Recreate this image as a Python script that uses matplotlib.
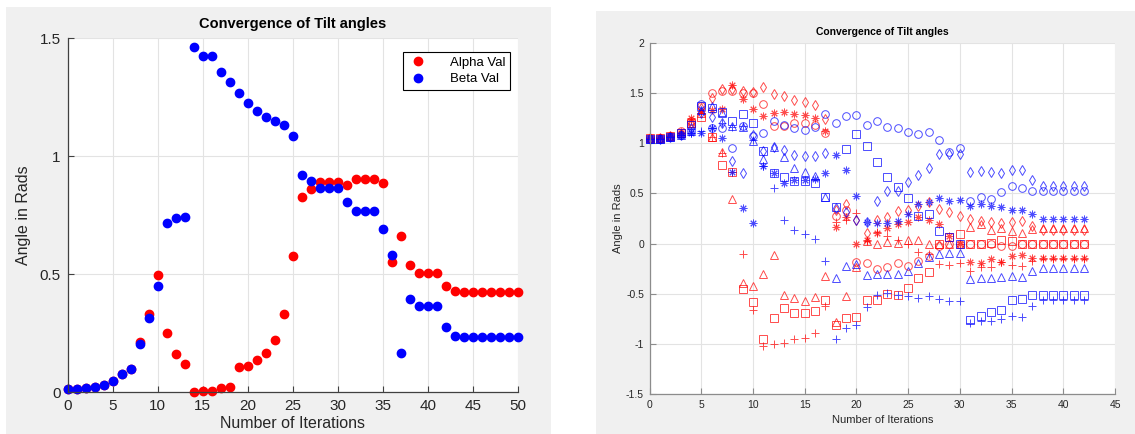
import numpy as np
import matplotlib
matplotlib.use('Agg')
import matplotlib.pyplot as plt
from matplotlib.patches import Rectangle

plt.rcParams['font.family'] = ['Liberation Sans', 'DejaVu Sans']

# ---- left plot: alpha / beta per iteration ----
iters_left = np.arange(0, 51)
alpha_val = [0.011, 0.011, 0.017, 0.021, 0.031, 0.048, 0.075, 0.097, 0.211, 0.330,
             0.494, 0.251, 0.161, 0.120, 0.0, 0.004, 0.004, 0.015, 0.023, 0.104,
             0.111, 0.135, 0.166, 0.221, 0.332, 0.577, 0.828, 0.862, 0.890, 0.890,
             0.890, 0.876, 0.904, 0.901, 0.901, 0.887, 0.552, 0.663, 0.538, 0.506,
             0.506, 0.506, 0.451, 0.428, 0.423, 0.423, 0.423, 0.423, 0.423, 0.423, 0.423]
beta_val = [0.011, 0.011, 0.017, 0.021, 0.031, 0.048, 0.075, 0.097, 0.203, 0.315,
            0.451, 0.715, 0.737, 0.741, 1.462, 1.423, 1.423, 1.354, 1.315, 1.266,
            1.224, 1.190, 1.166, 1.149, 1.130, 1.085, 0.921, 0.896, 0.866, 0.866,
            0.863, 0.806, 0.766, 0.766, 0.766, 0.692, 0.582, 0.166, 0.394, 0.363,
            0.366, 0.366, 0.277, 0.239, 0.232, 0.232, 0.232, 0.232, 0.232, 0.232, 0.232]

# ---- right plot: six red and six blue runs ----
iters_right = np.arange(0, 43)
red_circle = [1.05, 1.05, 1.07, 1.12, 1.22, 1.37, 1.50, 1.52, 1.52, 1.50, 1.50, 1.39, 1.17,
              1.17, 1.20, 1.20, 1.18, 1.10, 0.27, 0.33, -0.18, -0.19, -0.25, -0.23, -0.19,
              -0.22, -0.17, -0.12, -0.02, 0.0, 0.0, 0.0, 0.0, 0.0, -0.02, -0.02, 0.0,
              0.0, 0.0, 0.0, 0.0, 0.0, 0.0]
red_plus = [1.05, 1.05, 1.07, 1.10, 1.22, 1.30, 1.06, 0.90, 0.71, -0.10, -0.66, -1.02, -1.00,
            -0.99, -0.95, -0.94, -0.89, -0.62, 0.22, 0.24, 0.30, 0.03, 0.12, 0.08, 0.04,
            0.0, -0.08, -0.10, -0.20, -0.21, -0.19, -0.27, -0.23, -0.23, -0.18, -0.21, -0.22,
            -0.17, -0.15, -0.15, -0.15, -0.15, -0.15]
red_star = [1.05, 1.05, 1.07, 1.10, 1.25, 1.32, 1.33, 1.34, 1.58, 1.44, 1.34, 1.27, 1.30,
            1.31, 1.29, 1.28, 1.25, 1.12, 0.17, 0.26, 0.0, 0.04, 0.11, 0.16, 0.20,
            0.22, 0.26, 0.24, 0.20, 0.08, 0.0, -0.18, -0.19, -0.15, -0.18, -0.12, -0.11,
            -0.14, -0.14, -0.14, -0.14, -0.14, -0.14]
red_square = [1.05, 1.05, 1.07, 1.10, 1.20, 1.26, 1.06, 0.78, 0.71, -0.45, -0.58, -0.95, -0.74,
              -0.64, -0.69, -0.69, -0.67, -0.56, -0.81, -0.74, -0.73, -0.56, -0.56, -0.50, -0.51,
              -0.44, -0.34, -0.28, 0.0, 0.07, 0.10, 0.0, 0.0, 0.01, 0.04, 0.03, 0.0,
              0.0, 0.0, 0.0, 0.0, 0.0, 0.0]
red_diamond = [1.05, 1.05, 1.07, 1.10, 1.20, 1.35, 1.45, 1.54, 1.54, 1.52, 1.51, 1.56, 1.49,
               1.47, 1.43, 1.41, 1.38, 1.24, 0.33, 0.39, 0.24, 0.11, 0.24, 0.26, 0.32,
               0.33, 0.37, 0.41, 0.34, 0.31, 0.27, 0.25, 0.23, 0.22, 0.21, 0.22, 0.23,
               0.18, 0.135, 0.135, 0.135, 0.135, 0.135]
red_triangle = [1.05, 1.05, 1.07, 1.10, 1.20, 1.30, 1.06, 0.91, 0.44, -0.39, -0.42, -0.30, -0.11,
                -0.51, -0.54, -0.57, -0.53, -0.32, -0.78, -0.52, -0.23, 0.03, 0.0, 0.02, 0.01,
                0.04, 0.04, 0.0, 0.0, 0.0, 0.0, 0.17, 0.20, 0.14, 0.16, 0.13, 0.11,
                0.15, 0.16, 0.16, 0.16, 0.16, 0.16]
blue_circle = [1.04, 1.04, 1.06, 1.08, 1.12, 1.39, 1.15, 1.15, 0.955, 1.17, 1.07, 1.10, 1.22,
               1.18, 1.15, 1.13, 1.16, 1.29, 1.20, 1.27, 1.28, 1.18, 1.22, 1.16, 1.15,
               1.11, 1.09, 1.11, 1.03, 0.91, 0.95, 0.42, 0.46, 0.44, 0.51, 0.57, 0.55,
               0.52, 0.52, 0.52, 0.52, 0.52, 0.52]
blue_plus = [1.04, 1.04, 1.06, 1.08, 1.10, 1.12, 1.15, 1.20, 1.16, 1.17, 1.03, 0.77, 0.55,
             0.24, 0.14, 0.10, 0.05, -0.17, -0.95, -0.84, -0.81, -0.63, -0.51, -0.49, -0.51,
             -0.52, -0.54, -0.52, -0.55, -0.57, -0.57, -0.79, -0.77, -0.77, -0.75, -0.72, -0.73,
             -0.62, -0.56, -0.56, -0.56, -0.56, -0.56]
blue_star = [1.04, 1.04, 1.06, 1.08, 1.10, 1.10, 1.15, 1.05, 0.71, 0.35, 0.21, 0.77, 0.70,
             0.60, 0.63, 0.63, 0.64, 0.70, 0.88, 0.73, 0.47, 0.22, 0.21, 0.21, 0.23,
             0.29, 0.39, 0.41, 0.45, 0.42, 0.43, 0.37, 0.39, 0.37, 0.36, 0.33, 0.33,
             0.29, 0.25, 0.25, 0.25, 0.25, 0.25]
blue_square = [1.04, 1.04, 1.06, 1.10, 1.18, 1.37, 1.35, 1.31, 1.22, 1.29, 1.20, 0.92, 0.70,
               0.66, 0.62, 0.62, 0.60, 0.46, 0.36, 0.94, 1.09, 0.97, 0.81, 0.66, 0.56,
               0.45, 0.27, 0.29, 0.13, 0.07, 0.0, -0.76, -0.72, -0.68, -0.66, -0.56, -0.55,
               -0.51, -0.51, -0.51, -0.51, -0.51, -0.51]
blue_diamond = [1.04, 1.04, 1.06, 1.08, 1.15, 1.30, 1.26, 1.20, 0.82, 0.70, 1.08, 0.92, 0.96,
                0.93, 0.88, 0.87, 0.87, 0.90, 0.35, 0.31, 0.24, 0.22, 0.42, 0.52, 0.52,
                0.61, 0.68, 0.75, 0.89, 0.89, 0.89, 0.71, 0.72, 0.71, 0.70, 0.73, 0.73,
                0.63, 0.57, 0.57, 0.57, 0.57, 0.57]
blue_triangle = [1.04, 1.04, 1.06, 1.08, 1.12, 1.33, 1.37, 1.30, 1.17, 1.16, 1.02, 0.84, 0.96,
                 0.86, 0.75, 0.71, 0.67, 0.46, -0.34, -0.22, -0.20, -0.31, -0.30, -0.30, -0.30,
                 -0.27, -0.19, -0.13, -0.10, -0.09, -0.09, -0.35, -0.34, -0.34, -0.33, -0.32, -0.33,
                 -0.27, -0.24, -0.24, -0.24, -0.24, -0.24]

W, H = 1135, 434
fig = plt.figure(figsize=(W / 100, H / 100), dpi=100)
fig.patch.set_facecolor('white')

# grey figure backgrounds behind each axes
fig.add_artist(Rectangle((6 / W, 0), 545 / W, 427 / H, transform=fig.transFigure,
                         facecolor='#f0f0f0', edgecolor='none', zorder=-10))
fig.add_artist(Rectangle((596 / W, 0), 539 / W, 423 / H, transform=fig.transFigure,
                         facecolor='#f0f0f0', edgecolor='none', zorder=-10))


def matlab_axes(ax, axis_color):
    ax.set_facecolor('white')
    ax.grid(True, color='#e3e3e3', linewidth=0.8)
    ax.set_axisbelow(True)
    for s in ['top', 'right']:
        ax.spines[s].set_visible(False)
    for s in ['left', 'bottom']:
        ax.spines[s].set_color(axis_color)
        ax.spines[s].set_linewidth(0.9)
    ax.tick_params(direction='in', length=4, color=axis_color, width=0.8)


# left axes
ax1 = fig.add_axes([67.7 / W, (H - 392) / H, 450.3 / W, 354 / H])
matlab_axes(ax1, '#404040')
ax1.plot(iters_left, alpha_val, 'o', color='#ff0000', markersize=6, label='Alpha Val', clip_on=False)
ax1.plot(iters_left, beta_val, 'o', color='#0000ff', markersize=6, label='Beta Val', clip_on=False)
ax1.set_xlim(0, 50)
ax1.set_ylim(0, 1.5)
ax1.set_xticks(np.arange(0, 51, 5))
ax1.set_yticks([0, 0.5, 1, 1.5])
ax1.set_yticklabels(['0', '0.5', '1', '1.5'])
ax1.tick_params(labelsize=11, labelcolor='#262626', pad=5)
ax1.set_title('Convergence of Tilt angles', fontsize=10.5, fontweight='bold', pad=7)
ax1.set_xlabel('Number of Iterations', fontsize=11.5, color='#262626', labelpad=2)
ax1.set_ylabel('Angle in Rads', fontsize=11.5, color='#262626', labelpad=6)
leg = ax1.legend(loc='upper right', bbox_to_anchor=(0.982, 0.96), borderaxespad=0,
                 fontsize=9.5, fancybox=False, framealpha=1, edgecolor='black',
                 handletextpad=1.6, handlelength=1.6, borderpad=0.35, labelspacing=0.3)
leg.get_frame().set_linewidth(0.8)

# right axes
ax2 = fig.add_axes([649.5 / W, (H - 394) / H, 465.5 / W, 351 / H])
matlab_axes(ax2, '#8c8c8c')
mk = dict(linestyle='none', markersize=5.5, markerfacecolor='none', markeredgewidth=0.7,
          alpha=0.7, clip_on=False)
asterisk = (8, 2, 0)
ax2.plot(iters_right, red_circle, marker='o', color='r', **mk)
ax2.plot(iters_right, red_plus, marker='+', color='r', **mk)
ax2.plot(iters_right, red_star, marker=asterisk, color='r', **mk)
ax2.plot(iters_right, red_square, marker='s', color='r', **mk)
ax2.plot(iters_right, red_diamond, marker='d', color='r', **mk)
ax2.plot(iters_right, red_triangle, marker='^', color='r', **mk)
ax2.plot(iters_right, blue_circle, marker='o', color='b', **mk)
ax2.plot(iters_right, blue_plus, marker='+', color='b', **mk)
ax2.plot(iters_right, blue_star, marker=asterisk, color='b', **mk)
ax2.plot(iters_right, blue_square, marker='s', color='b', **mk)
ax2.plot(iters_right, blue_diamond, marker='d', color='b', **mk)
ax2.plot(iters_right, blue_triangle, marker='^', color='b', **mk)
ax2.set_xlim(0, 45)
ax2.set_ylim(-1.5, 2)
ax2.set_xticks(np.arange(0, 46, 5))
ax2.set_yticks(np.arange(-1.5, 2.01, 0.5))
ax2.set_yticklabels(['-1.5', '-1', '-0.5', '0', '0.5', '1', '1.5', '2'])
ax2.tick_params(labelsize=7.5, labelcolor='#262626', pad=4)
ax2.set_title('Convergence of Tilt angles', fontsize=7.5, fontweight='bold', pad=6)
ax2.set_xlabel('Number of Iterations', fontsize=8, color='#262626', labelpad=4)
ax2.set_ylabel('Angle in Rads', fontsize=8, color='#262626', labelpad=2)

fig.savefig('out.png', dpi=100)
